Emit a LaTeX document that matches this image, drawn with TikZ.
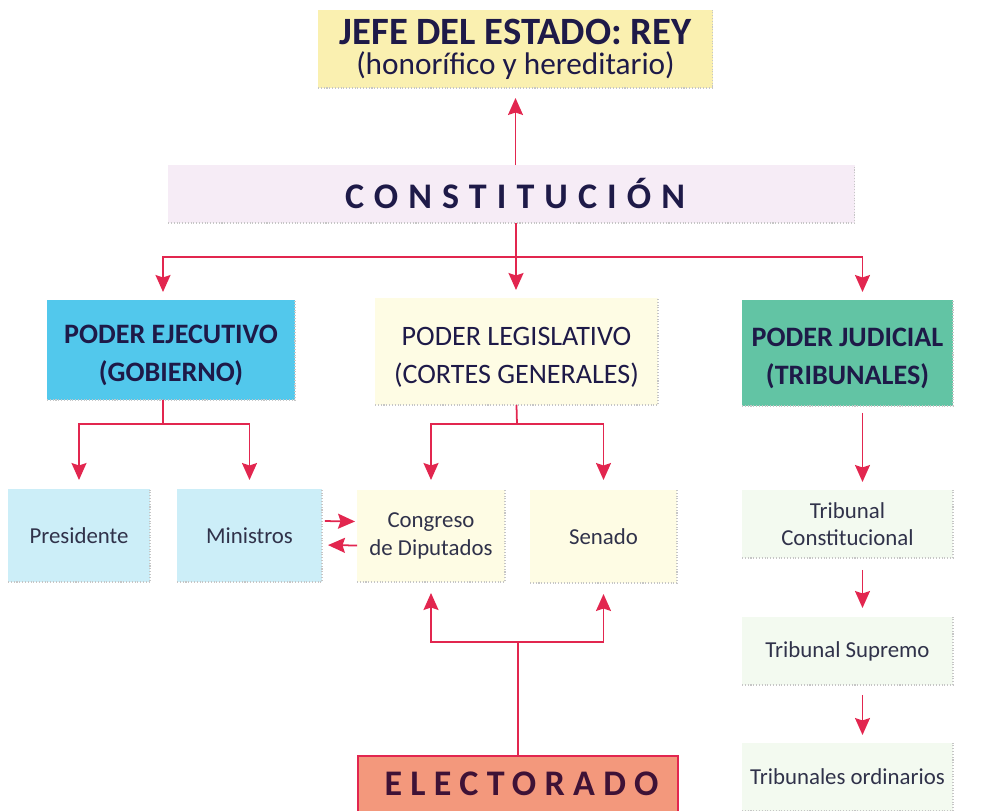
\documentclass[tikz,border=0pt]{standalone}
\usepackage{fontspec}
\setmainfont{Carlito}
\newfontfamily\espaciado[LetterSpace=28]{Carlito}
\newfontfamily\espaciadob[LetterSpace=23]{Carlito}
\usetikzlibrary{arrows.meta}

\definecolor{rojo}{RGB}{226,38,79}
\definecolor{tinta}{RGB}{30,26,72}
\definecolor{gris}{RGB}{48,50,74}
\definecolor{reyfondo}{RGB}{250,240,176}
\definecolor{constfondo}{RGB}{246,236,246}
\definecolor{cian}{RGB}{82,200,236}
\definecolor{cianclaro}{RGB}{204,238,248}
\definecolor{crema}{RGB}{254,252,228}
\definecolor{verde}{RGB}{98,196,164}
\definecolor{verdeclaro}{RGB}{243,250,240}
\definecolor{salmon}{RGB}{243,152,124}
\definecolor{purpura}{RGB}{62,18,54}

\tikzstyle{caja}=[inner sep=0pt,outer sep=0pt,align=center,text=tinta]
\tikzstyle{caja poder}=[caja,minimum height=2.1cm,
    font=\fontsize{16}{21.5}\selectfont]
\tikzstyle{caja chica}=[caja,text=gris,minimum height=1.86cm,
    font=\fontsize{13}{15.5}\selectfont]
\tikzstyle{tribunal}=[caja chica,fill=verdeclaro,minimum width=4.22cm,
    minimum height=1.36cm]
\tikzstyle{flecha}=[rojo,line width=1pt]
\tikzstyle{borde}=[gray!45,densely dotted,line width=0.6pt]
% strut: lowers the two-line text inside the big boxes
\newcommand{\alza}{\rule{0pt}{0.6cm}}
\newcommand{\borde}[1]{
    \draw[borde] (#1.south west) -- (#1.south east) -- (#1.north east);
}

\begin{document}
\begin{tikzpicture}[x=0.02cm,y=-0.02cm,
    >={Stealth[length=3.4mm,width=3mm,inset=0.5mm]}]
    \useasboundingbox (0,0) rectangle (992,811);
    %
    \node[caja,fill=reyfondo,minimum width=7.9cm,minimum height=1.56cm,
        font=\fontsize{17.8}{17}\selectfont] (rey) at (515.5,49)
        {{\fontsize{22}{22}\selectfont\bfseries JEFE DEL ESTADO: REY}\\
         (honorífico y hereditario)};
    \node[caja,fill=constfondo,minimum width=13.74cm,minimum height=1.16cm,
        font=\espaciado\bfseries\fontsize{20.5}{21}\selectfont] (const)
        at (511.5,194) {CONSTITUCIÓN\hspace{-0.2em}};
    %
    \node[caja poder,fill=cian,minimum width=4.96cm,minimum height=2cm,
        font=\bfseries\fontsize{16}{21.5}\selectfont] (ejec) at (171,350)
        {\alza PODER EJECUTIVO\\(GOBIERNO)};
    \node[caja poder,fill=crema,minimum width=5.66cm,minimum height=2.14cm]
        (legis) at (516.5,351.5) {\alza PODER LEGISLATIVO\\(CORTES GENERALES)};
    \node[caja poder,fill=verde,minimum width=4.22cm,minimum height=2.12cm,
        font=\bfseries\fontsize{16}{21.5}\selectfont] (judic) at (847.5,353)
        {\alza PODER JUDICIAL\\(TRIBUNALES)};
    %
    \node[caja chica,fill=cianclaro,minimum width=2.84cm] (pres)
        at (79,535.5) {Presidente};
    \node[caja chica,fill=cianclaro,minimum width=2.9cm] (mini)
        at (249.5,535.5) {Ministros};
    \node[caja chica,fill=crema,minimum width=2.96cm,minimum height=1.84cm]
        (congr) at (431,536) {Congreso\\de Diputados};
    \node[caja chica,fill=crema,minimum width=2.94cm] (senado)
        at (603.5,536.5) {Senado};
    %
    \node[tribunal] (tconst) at (847.5,524) {Tribunal\\Constitucional};
    \node[tribunal] (tsup) at (847.5,651) {Tribunal Supremo};
    \node[tribunal] (tord) at (847.5,777) {Tribunales ordinarios};
    %
    \node[caja,fill=salmon,draw=rojo,line width=0.8pt,minimum width=6.4cm,
        minimum height=1.12cm,text=purpura,
        font=\espaciadob\bfseries\fontsize{20.5}{21}\selectfont] (elect)
        at (518,784) {ELECTORADO\hspace{-0.2em}};
    %
    \borde{rey} \borde{const} \borde{ejec} \borde{legis} \borde{judic}
    \borde{pres} \borde{mini} \borde{congr} \borde{senado}
    \borde{tconst} \borde{tsup} \borde{tord}
    %
    \coordinate (ramal) at (516,257);
    \coordinate (ramal ejec) at (163,424);
    \coordinate (ramal leg) at (517,424);
    \coordinate (ramal elec) at (518,642);
    %
    \draw[flecha,->,shorten >=0.2cm] (rey.south |- const.north) -- (rey.south);
    %
    \draw[flecha] (const.south -| ramal) -- (ramal);
    \draw[flecha,->,shorten >=0.16cm] (ramal) -| ([xshift=-0.16cm]ejec.north);
    \draw[flecha,->,shorten >=0.16cm] (ramal) -- (ramal |- legis.north);
    \draw[flecha,->,shorten >=0.16cm] (ramal) -| ([xshift=0.3cm]judic.north);
    %
    \draw[flecha] ([xshift=-0.16cm]ejec.south) -- (ramal ejec);
    \draw[flecha,->,shorten >=0.18cm] (ramal ejec) -| (pres.north);
    \draw[flecha,->,shorten >=0.18cm] (ramal ejec) -| (mini.north);
    %
    \draw[flecha] (legis.south) -- (ramal leg);
    \draw[flecha,->,shorten >=0.2cm] (ramal leg) -| (congr.north);
    \draw[flecha,->,shorten >=0.2cm] (ramal leg) -| (senado.north);
    %
    \draw[flecha] (elect.north) -- (ramal elec);
    \draw[flecha,->,shorten >=0.22cm] (ramal elec) -| (congr.south);
    \draw[flecha,->,shorten >=0.22cm] (ramal elec) -| (senado.south);
    %
    \draw[flecha,->,shorten <=0.06cm,shorten >=0.04cm]
        ([yshift=0.29cm]mini.east) -- ([yshift=0.29cm]congr.west);
    \draw[flecha,->,shorten >=0.12cm]
        ([yshift=-0.19cm]congr.west) -- ([yshift=-0.19cm]mini.east);
    %
    \draw[flecha,->,shorten <=0.14cm,shorten >=0.16cm]
        ([xshift=0.3cm]judic.south) -- ([xshift=0.3cm]tconst.north);
    \draw[flecha,->,shorten <=0.24cm,shorten >=0.18cm]
        ([xshift=0.3cm]tconst.south) -- ([xshift=0.3cm]tsup.north);
    \draw[flecha,->,shorten <=0.2cm,shorten >=0.16cm]
        ([xshift=0.3cm]tsup.south) -- ([xshift=0.3cm]tord.north);
\end{tikzpicture}
\end{document}
